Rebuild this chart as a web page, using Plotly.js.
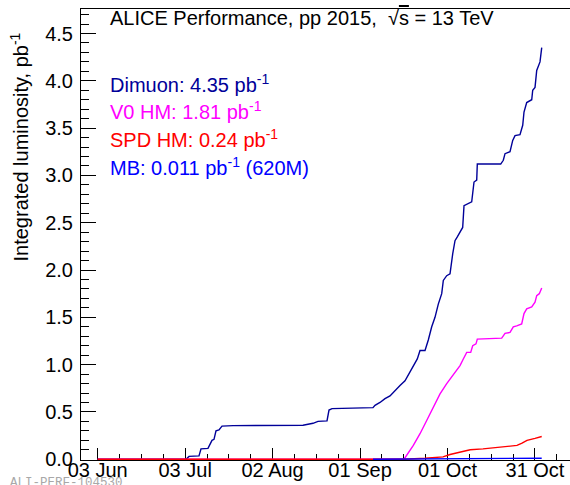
<!DOCTYPE html>
<html>
<head>
<meta charset="utf-8">
<script src="https://cdn.plot.ly/plotly-3.0.1.min.js"></script>
<style>html,body{margin:0;padding:0;background:#fff;overflow:hidden}#chart{width:570px;height:485px}</style>
</head>
<body>
<div id="chart"></div>
<script>
// ---- data ----
const dimuonDates = ['2015-06-03 00:00','2015-07-03 07:00','2015-07-04 07:40','2015-07-07 18:00','2015-07-08 10:30','2015-07-10 20:00','2015-07-12 05:00','2015-07-12 21:30','2015-07-13 14:00','2015-07-14 14:40','2015-07-15 15:20','2015-07-19 10:00','2015-08-12 10:20','2015-08-15 20:40','2015-08-17 13:40','2015-08-20 15:50','2015-08-21 08:25','2015-08-22 09:00','2015-09-05 10:30','2015-09-06 03:00','2015-09-07 20:10','2015-09-09 13:20','2015-09-11 06:30','2015-09-12 23:45','2015-09-14 16:50','2015-09-16 10:00','2015-09-18 11:30','2015-09-20 15:20','2015-09-21 13:40','2015-09-23 06:50','2015-09-24 09:50','2015-09-25 13:55','2015-09-26 17:00','2015-09-27 20:10','2015-09-29 00:15','2015-09-29 13:30','2015-09-30 17:30','2015-10-01 20:40','2015-10-02 18:45','2015-10-03 13:40','2015-10-04 08:40','2015-10-05 07:00','2015-10-06 05:00','2015-10-06 15:50','2015-10-08 03:10','2015-10-09 07:10','2015-10-10 02:10','2015-10-11 00:30','2015-10-11 05:20','2015-10-19 06:00','2015-10-20 03:20','2015-10-20 17:30','2015-10-22 10:35','2015-10-23 08:50','2015-10-24 03:50','2015-10-25 20:50','2015-10-26 19:10','2015-10-27 05:45','2015-10-28 04:00','2015-10-29 21:20','2015-10-30 05:30','2015-10-31 00:30','2015-10-31 14:25','2015-11-01 17:30','2015-11-02 07:40'];
const dimuonLumi = [0,0,0.03,0.035,0.11,0.115,0.2,0.21,0.3,0.31,0.35,0.355,0.36,0.38,0.40,0.405,0.52,0.535,0.545,0.57,0.60,0.64,0.67,0.73,0.78,0.83,0.95,1.06,1.15,1.15,1.26,1.40,1.50,1.64,1.75,1.89,1.94,1.96,2.17,2.31,2.35,2.40,2.45,2.68,2.70,2.72,2.93,2.95,3.12,3.12,3.16,3.23,3.25,3.37,3.42,3.43,3.53,3.67,3.77,3.80,3.90,3.93,4.11,4.20,4.35];

const v0hmDates = ['2015-06-03 00:00','2015-09-16 02:00','2015-09-19 06:30','2015-09-21 13:40','2015-09-23 20:40','2015-09-26 03:10','2015-09-28 10:20','2015-09-30 17:30','2015-10-01 20:40','2015-10-03 13:40','2015-10-05 07:00','2015-10-06 10:00','2015-10-07 14:10','2015-10-08 23:00','2015-10-09 15:20','2015-10-10 18:40','2015-10-11 05:20','2015-10-19 14:10','2015-10-20 17:30','2015-10-22 10:35','2015-10-23 13:40','2015-10-24 17:45','2015-10-26 10:50','2015-10-27 05:45','2015-10-28 04:00','2015-10-29 21:20','2015-10-31 00:30','2015-10-31 14:25','2015-11-01 11:45','2015-11-02 07:40'];
const v0hmLumi = [0,0,0.146,0.27,0.41,0.55,0.69,0.80,0.85,0.92,0.99,1.06,1.13,1.13,1.20,1.22,1.27,1.28,1.33,1.34,1.40,1.41,1.43,1.54,1.59,1.61,1.66,1.73,1.75,1.81];

const spdhmDates = ['2015-06-03 00:00','2015-09-16 02:00','2015-09-23 06:50','2015-09-29 11:00','2015-10-01 20:40','2015-10-05 07:00','2015-10-08 19:00','2015-10-13 04:20','2015-10-16 14:40','2015-10-21 09:50','2015-10-24 20:10','2015-10-26 13:30','2015-10-28 06:30','2015-10-31 00:30','2015-11-02 07:40'];
const spdhmLumi = [0,0,0.01,0.025,0.05,0.075,0.10,0.11,0.12,0.13,0.146,0.17,0.20,0.22,0.24];

const mbDates = ['2015-09-05 10:30','2015-09-16 02:00','2015-10-01 20:40','2015-10-19 06:00','2015-11-02 07:40'];
const mbLumi = [0,0.001,0.004,0.008,0.011];

const xTickDates = ['2015-06-03','2015-07-03','2015-08-02','2015-09-01','2015-10-01','2015-10-31'];
const xTickLabels = ['03 Jun','03 Jul','02 Aug','01 Sep','01 Oct','31 Oct'];
const yTickVals = [0,0.5,1,1.5,2,2.5,3,3.5,4,4.5];
const yTickLabels = ['0.0','0.5','1.0','1.5','2.0','2.5','3.0','3.5','4.0','4.5'];

const legendTexts = ['Dimuon: 4.35 pb<sup>-1</sup>','V0 HM: 1.81 pb<sup>-1</sup>','SPD HM: 0.24 pb<sup>-1</sup>','MB: 0.011 pb<sup>-1</sup> (620M)'];
const titleText = 'ALICE Performance, pp 2015,  √<span style="text-decoration:overline">s</span> = 13 TeV';
const yTitleText = 'Integrated luminosity, pb<sup>-1</sup>';
const watermarkText = 'ALI-PERF-104530';

// ---- styling ----
const FONT = 'Liberation Sans, Arial, Helvetica, sans-serif';
const colDimuon = '#000099', colV0 = '#ff00ff', colSPD = '#ff0000', colMB = '#0000ff';

const traces = [
  {x: dimuonDates, y: dimuonLumi, color: colDimuon},
  {x: v0hmDates, y: v0hmLumi, color: colV0},
  {x: spdhmDates, y: spdhmLumi, color: colSPD},
  {x: mbDates, y: mbLumi, color: colMB}
].map(s => ({x: s.x, y: s.y, type: 'scatter', mode: 'lines', line: {color: s.color, width: 1.4}, hoverinfo: 'skip', showlegend: false}));

const DAY = 86400000;
const W = 570, H = 485, ML = 81, MR = 0, MT = 9, MB = 25;
const pw = W - ML - MR, ph = H - MT - MB;
const px2x = px => (px - ML) / pw;
const px2y = py => (H - MB - py) / ph;

const legendColors = [colDimuon, colV0, colSPD, colMB];
const legendY = [83.5, 110.7, 138, 166];

const annotations = [
  {text: titleText, x: px2x(108), y: px2y(18), xanchor: 'left', yanchor: 'middle', font: {family: FONT, size: 20, color: '#000'}},
  {text: yTitleText, x: px2x(19), y: px2y(31), xanchor: 'center', yanchor: 'top', textangle: -90, font: {family: FONT, size: 20, color: '#000'}},
  {text: watermarkText, x: px2x(8), y: px2y(491.5), xanchor: 'left', yanchor: 'bottom', font: {family: 'Liberation Mono, DejaVu Sans Mono, monospace', size: 12.5, color: '#a8a8a8'}}
].concat(legendTexts.map((t, i) => ({text: t, x: px2x(108), y: px2y(legendY[i]), xanchor: 'left', yanchor: 'middle', font: {family: FONT, size: 20, color: legendColors[i]}})));
annotations.forEach(a => { a.xref = 'paper'; a.yref = 'paper'; a.showarrow = false; });

const layout = {
  width: W, height: H,
  margin: {l: ML, r: MR, t: MT, b: MB, pad: 0},
  paper_bgcolor: '#fff', plot_bgcolor: '#fff',
  font: {family: FONT, size: 20, color: '#000'},
  xaxis: {
    type: 'date', range: ['2015-05-28 06:30', '2015-11-12 00:30'],
    tickmode: 'array', tickvals: xTickDates, ticktext: xTickLabels,
    ticks: 'inside', ticklen: 12, tickwidth: 1, tickcolor: '#000',
    ticklabelstandoff: -8,
    minor: {tickmode: 'linear', tick0: '2015-06-03', dtick: 7.5 * DAY, ticks: 'inside', ticklen: 6, tickwidth: 1, tickcolor: '#000', showgrid: false},
    showline: true, linecolor: '#000', linewidth: 1, mirror: true,
    showgrid: false, zeroline: false, layer: 'below traces',
    tickfont: {family: FONT, size: 20, color: '#000'}
  },
  yaxis: {
    range: [-0.008, 4.759],
    tickmode: 'array', tickvals: yTickVals, ticktext: yTickLabels,
    ticks: 'inside', ticklen: 15, tickwidth: 1, tickcolor: '#000',
    ticklabelstandoff: 3,
    minor: {dtick: 0.1, ticks: 'inside', ticklen: 8, tickwidth: 1, tickcolor: '#000', showgrid: false},
    showline: true, linecolor: '#000', linewidth: 1, mirror: false,
    showgrid: false, zeroline: false, layer: 'below traces',
    tickfont: {family: FONT, size: 20, color: '#000'}
  },
  annotations: annotations
};

Plotly.newPlot('chart', traces, layout, {staticPlot: true, displayModeBar: false});
</script>
</body>
</html>
